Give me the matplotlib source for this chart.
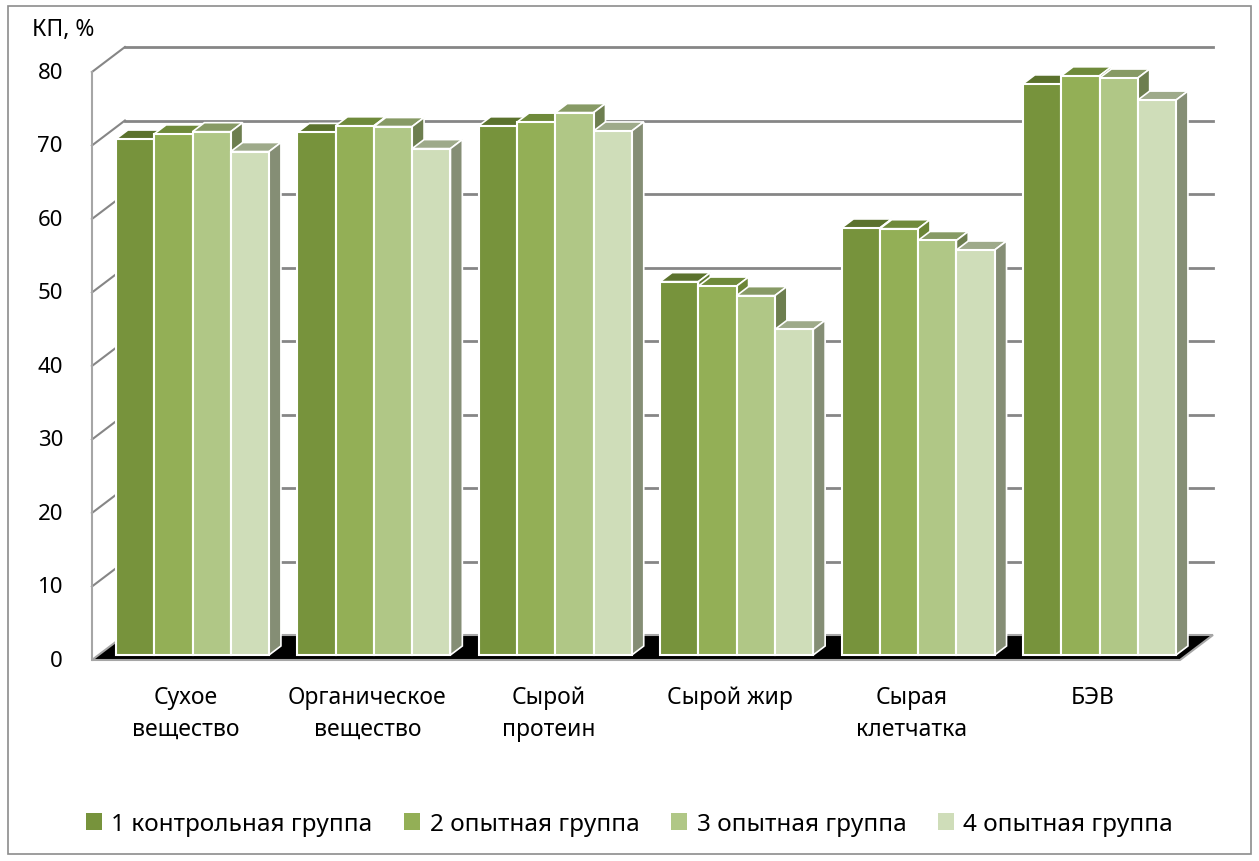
import matplotlib.pyplot as plt
import numpy as np
from matplotlib.patches import Polygon, Rectangle, Patch

plt.rcParams['font.family'] = ['Noto Sans', 'DejaVu Sans']

categories = ['Сухое\nвещество', 'Органическое\nвещество', 'Сырой\nпротеин',
              'Сырой жир', 'Сырая\nклетчатка', 'БЭВ']
groups = ['1 контрольная группа', '2 опытная группа',
          '3 опытная группа', '4 опытная группа']
g1 = [70.2, 71.1, 72.0, 50.8, 58.1, 77.7]
g2 = [70.9, 72.0, 72.5, 50.2, 58.0, 78.8]
g3 = [71.2, 71.9, 73.8, 48.9, 56.4, 78.5]
g4 = [68.5, 68.9, 71.3, 44.3, 55.1, 75.5]
yticks = [0, 10, 20, 30, 40, 50, 60, 70, 80]

series = [g1, g2, g3, g4]
front_c = ['#77933C', '#93AF56', '#B0C786', '#CFDDB9']
top_c = ['#5B722D', '#6F8A3B', '#879A65', '#9EAA8A']
side_c = ['#617A33', '#6C8537', '#6D7E4F', '#858E75']

# fake 3d: depth t runs 0 (front) .. 1 (back wall), bars stand at t=0.2..0.56
DX = 33 / 181.4
DY = 25 / 7.35
T_BAR = 0.2
T_BACK = 0.56
X_LO, X_HI = -0.518, 5.48
w = 0.211


def proj(x, v, t):
    return x + (t - T_BAR) * DX, v + (t - T_BAR) * DY


fig = plt.figure(figsize=(12.59, 8.62), dpi=100)
fig.patches.append(Rectangle((8 / 1259, 7 / 862), 1243 / 1259, 848 / 862,
                             transform=fig.transFigure, fill=False,
                             edgecolor='#8C8C8C', lw=1.2))
ax = fig.add_axes([40 / 1259, 162 / 862, 1200 / 1259, 660 / 862])
ax.set_xlim(-0.8407, 5.7745)
ax.set_ylim(-5.986, 83.81)
ax.axis('off')

# floor
floor = [proj(X_LO, 0, 0), proj(X_HI, 0, 0), proj(X_HI, 0, 1), proj(X_LO, 0, 1)]
ax.add_patch(Polygon(floor, closed=True, facecolor='black', edgecolor='#A6A6A6',
                     lw=1.5, zorder=2))

# back wall and side wall gridlines
for v in yticks[1:]:
    a = proj(X_LO, v, 1)
    b = proj(X_HI, v, 1)
    ax.plot([a[0], b[0]], [a[1], b[1]], color='#868686', lw=2, zorder=1)
    c = proj(X_LO, v, 0)
    ax.plot([c[0], a[0]], [c[1], a[1]], color='#868686', lw=1.5, zorder=1)
a = proj(X_LO, 0, 0)
b = proj(X_LO, 80, 0)
ax.plot([a[0], b[0]], [a[1], b[1]], color='#A6A6A6', lw=1.5, zorder=3)

for v in yticks:
    ax.annotate(str(v), proj(X_LO, v, 0), xytext=(-29, 0),
                textcoords='offset pixels', ha='right', va='center',
                fontsize=16)

x = np.arange(len(categories))
for j, vals in enumerate(series):
    xl = x - 2 * w + j * w
    ax.bar(xl + w / 2, vals, width=w, color=front_c[j], edgecolor='white',
           lw=1.5, zorder=11 + 3 * j)
    for xi, v in zip(xl, vals):
        top = [(xi, v), (xi + w, v), proj(xi + w, v, T_BACK), proj(xi, v, T_BACK)]
        side = [(xi + w, 0), (xi + w, v), proj(xi + w, v, T_BACK),
                proj(xi + w, 0, T_BACK)]
        ax.add_patch(Polygon(top, closed=True, facecolor=top_c[j],
                             edgecolor='white', lw=1.2, zorder=10 + 3 * j))
        ax.add_patch(Polygon(side, closed=True, facecolor=side_c[j],
                             edgecolor='white', lw=1.2, zorder=10 + 3 * j))

for xi, name in zip(x, categories):
    ax.annotate(name, proj(xi, 0, 0), xytext=(0, -25),
                textcoords='offset pixels', ha='center', va='top',
                fontsize=16.5, linespacing=1.45, annotation_clip=False)

fig.text(32 / 1259, 1 - 30 / 862, 'КП, %', ha='left', va='center', fontsize=16.5)

handles = [Patch(facecolor=c) for c in front_c]
fig.legend(handles, groups, loc='center', bbox_to_anchor=(0.5, 37 / 862),
           ncol=4, frameon=False, fontsize=17.5, handlelength=0.65,
           handleheight=0.65, handletextpad=0.4, columnspacing=1.3)

fig.savefig('out.png', dpi=100)
